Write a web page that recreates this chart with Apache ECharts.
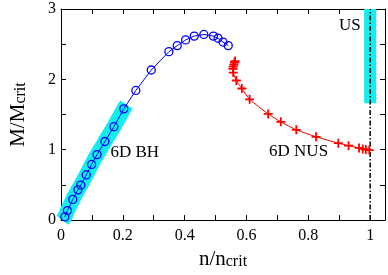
<!DOCTYPE html>
<html>
<head>
<meta charset="utf-8">
<script src="https://cdn.jsdelivr.net/npm/echarts@6/dist/echarts.min.js"></script>
<style>html,body{margin:0;padding:0;background:#fff;}#c{width:388px;height:275px;}</style>
</head>
<body>
<div id="c"></div>
<script>
// 6D BH branch (blue circles)
var bhX = [0.0124,0.0207,0.038,0.0547,0.064,0.0816,0.099,0.1166,0.142,0.171,0.203,0.242,0.292,0.349,0.376,0.403,0.431,0.462,0.493,0.508,0.524,0.541];
var bhY = [0.046,0.136,0.294,0.43,0.497,0.642,0.791,0.931,1.117,1.327,1.581,1.843,2.133,2.394,2.48,2.561,2.615,2.638,2.615,2.584,2.53,2.48];
// 6D NUS branch (red crosses)
var nusX = [0.563,0.561,0.559,0.557,0.556,0.557,0.567,0.585,0.610,0.670,0.711,0.761,0.825,0.897,0.930,0.964,0.976,0.986,0.997];
var nusY = [2.26,2.24,2.21,2.18,2.15,2.096,1.984,1.870,1.717,1.509,1.396,1.283,1.184,1.093,1.057,1.026,1.012,1.003,0.995];
// cyan highlight bands
var bandBhX = [0.004,0.0124,0.0207,0.038,0.0547,0.064,0.0816,0.099,0.1166,0.142,0.171,0.203,0.212];
var bandBhY = [0.0,0.046,0.136,0.294,0.43,0.497,0.642,0.791,0.931,1.117,1.327,1.581,1.64];
var bandUsX = [1,1];
var bandUsY = [1.66,3.0];
// uniform string line
var usLineX = [1,1];
var usLineY = [0,3];
// annotations
var noteX = [0.16,0.673,0.899];
var noteY = [0.958,0.972,2.76];
var noteText = ['6D BH','6D NUS','US'];
// ticks
var xTickLabels = {0:'0',2:'0.2',4:'0.4',6:'0.6',8:'0.8',10:'1'};
var yTickLabels = {0:'0',2:'1',4:'2',6:'3'};

function zip(a,b){return a.map(function(v,i){return [v,b[i]];});}
var FONT = 'Liberation Serif';
var plus = 'path://M-1,-5L1,-5L1,-1L5,-1L5,1L1,1L1,5L-1,5L-1,1L-5,1L-5,-1L-1,-1Z';

var axisCommon = {
  type:'value',
  axisLine:{show:true,onZero:false,lineStyle:{color:'#000',width:1}},
  axisTick:{show:true,inside:true,length:5,lineStyle:{color:'#000',width:1}},
  splitLine:{show:false},
  minorTick:{show:false}
};
function xLab(v){var k=Math.round(v*10);if(Math.abs(v*10-k)>1e-6)return '';return xTickLabels[k]!==undefined?xTickLabels[k]:'';}
function yLab(v){var k=Math.round(v*2);if(Math.abs(v*2-k)>1e-6)return '';return yTickLabels[k]!==undefined?yTickLabels[k]:'';}

var chart = echarts.init(document.getElementById('c'),null,{renderer:'canvas'});
chart.setOption({
  animation:false,
  backgroundColor:'#fff',
  grid:{left:48,right:1,top:9,bottom:44,containLabel:false},
  xAxis:[
    Object.assign({},axisCommon,{position:'bottom',min:0,max:1.048,interval:0.1,
      axisLabel:{show:true,formatter:xLab,color:'#000',fontFamily:FONT,fontSize:16,margin:8,showMaxLabel:true},
      name:'{a|n/n}{b|crit}',nameLocation:'middle',nameGap:20,
      nameTextStyle:{rich:{a:{fontFamily:FONT,fontSize:21,color:'#000',verticalAlign:'bottom'},b:{fontFamily:FONT,fontSize:16,color:'#000',verticalAlign:'bottom'}}}}),
    Object.assign({},axisCommon,{position:'top',min:0,max:1.048,interval:0.1,axisLabel:{show:false}})
  ],
  yAxis:[
    Object.assign({},axisCommon,{position:'left',min:0,max:3,interval:0.5,
      axisLabel:{show:true,formatter:yLab,color:'#000',fontFamily:FONT,fontSize:16,margin:5,padding:[6,0,0,0]},
      name:'{a|M/M}{b|crit}',nameLocation:'middle',nameGap:32,nameRotate:90,
      nameTextStyle:{rich:{a:{fontFamily:FONT,fontSize:21,color:'#000',verticalAlign:'bottom'},b:{fontFamily:FONT,fontSize:16,color:'#000',verticalAlign:'bottom'}}}}),
    Object.assign({},axisCommon,{position:'right',min:0,max:3,interval:0.5,axisLabel:{show:false}})
  ],
  series:[
    {type:'line',data:zip(bandBhX,bandBhY),showSymbol:false,symbol:'none',lineStyle:{color:'#11eeee',width:15,cap:'butt',join:'round'},z:1,silent:true},
    {type:'line',data:zip(bandUsX,bandUsY),showSymbol:false,symbol:'none',lineStyle:{color:'#11eeee',width:12,cap:'butt'},z:1,silent:true},
    {type:'line',data:zip(usLineX,usLineY),showSymbol:false,symbol:'none',lineStyle:{color:'#000',width:1.5,type:[5,2,1.5,2]},z:2,silent:true},
    {type:'line',data:zip(bhX,bhY),symbol:'circle',symbolSize:8,showSymbol:true,
      itemStyle:{color:'rgba(0,0,0,0)',borderColor:'#0000ff',borderWidth:1.3},
      lineStyle:{color:'#0000ff',width:1},z:3},
    {type:'line',data:zip(nusX,nusY),symbol:plus,symbolSize:9,showSymbol:true,smooth:0.2,
      itemStyle:{color:'#ff0000'},lineStyle:{color:'#ff0000',width:1},z:3},
    {type:'scatter',data:noteX.map(function(x,i){return [x,noteY[i],noteText[i]];}),symbolSize:0,
      label:{show:true,position:'right',distance:0,formatter:function(p){return p.data[2];},color:'#000',opacity:1,textBorderWidth:0,fontFamily:FONT,fontSize:17},z:4,silent:true}
  ]
});
</script>
</body>
</html>
